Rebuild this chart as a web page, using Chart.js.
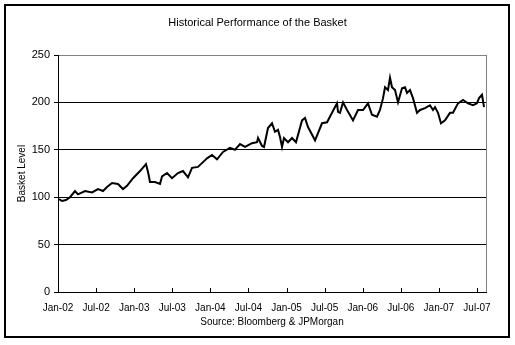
<!DOCTYPE html>
<html>
<head>
<meta charset="utf-8">
<script src="https://cdn.jsdelivr.net/npm/chart.js@4.4.0/dist/chart.umd.min.js"></script>
<style>
  body { margin: 0; background: #fff; }
  canvas { display: block; }
</style>
</head>
<body>
<canvas id="basketChart" width="515" height="345"></canvas>
<script>
// months since Jan-02
const months = [
    0.16, 0.63, 1.26, 1.89, 2.68, 3.15, 4.25, 5.36, 6.30, 7.09,
    7.72, 8.51, 9.45, 10.24, 10.87, 11.82, 12.92, 13.86, 14.18, 14.49,
    15.28, 16.07, 16.39, 17.17, 17.96, 18.90, 19.69, 20.48, 21.11, 22.05,
    22.84, 23.47, 24.26, 25.05, 25.99, 27.09, 27.88, 28.67, 29.46, 30.56,
    31.35, 31.51, 32.14, 32.45, 33.08, 33.71, 34.18, 34.66, 34.97, 35.29,
    35.60, 36.23, 36.86, 37.49, 38.44, 38.91, 39.38, 40.49, 41.59, 42.38,
    43.16, 43.95, 44.11, 44.42, 44.90, 45.53, 46.47, 47.26, 48.05, 48.83,
    49.46, 50.25, 50.72, 51.20, 51.51, 51.98, 52.30, 52.61, 53.09, 53.56,
    54.19, 54.66, 54.98, 55.45, 55.92, 56.55, 57.03, 57.81, 58.60, 59.07,
    59.39, 59.86, 60.33, 60.96, 61.75, 62.22, 63.01, 63.80, 64.59, 65.37,
    66.00, 66.32, 66.79, 67.11
];
const basketLevel = [
    98, 96, 97, 100, 106.5, 103, 106.5, 105, 108.6, 106.5,
    110.8, 115, 114, 108.6, 112, 120, 127.6, 135, 126.6, 116,
    116, 114, 122, 125.5, 120, 125.5, 127.6, 121, 131, 132,
    137, 141, 144.5, 140, 147.7, 152, 150, 156, 153, 157,
    158, 162.5, 154, 153, 173, 178, 169, 171, 163.5, 153,
    162.5, 158, 162.5, 158, 181, 183.6, 174, 160, 178, 179,
    189, 199, 190, 189, 200, 192, 181, 192, 192, 199,
    187, 185, 192, 204.5, 216, 213, 226, 216, 213, 200,
    215, 216, 210, 213, 204.5, 189, 192, 194, 197, 192,
    195, 189, 178, 181, 189, 189, 199, 202.5, 199, 197,
    199, 204.5, 208, 195
];
const tickLabels = ['Jan-02', 'Jul-02', 'Jan-03', 'Jul-03', 'Jan-04', 'Jul-04',
    'Jan-05', 'Jul-05', 'Jan-06', 'Jul-06', 'Jan-07', 'Jul-07'];

const font = 'Liberation Sans, Arial, sans-serif';

const frame = {
    id: 'frame',
    beforeDraw(chart) {
        const c = chart.ctx;
        c.save();
        c.fillStyle = '#fff';
        c.fillRect(0, 0, chart.width, chart.height);
        c.strokeStyle = '#000';
        c.lineWidth = 2;
        c.strokeRect(5, 5, 504, 332);
        c.restore();
    },
    afterDraw(chart) {
        const c = chart.ctx;
        const area = chart.chartArea;
        const xs = chart.scales.x;
        c.save();
        c.lineWidth = 1;
        c.strokeStyle = '#808080';
        c.beginPath();
        c.moveTo(Math.round(area.right) + 0.5, area.top);
        c.lineTo(Math.round(area.right) + 0.5, area.bottom);
        c.stroke();
        // inside tick marks on the date axis
        c.strokeStyle = '#000';
        c.beginPath();
        xs.ticks.forEach(t => {
            const px = Math.round(xs.getPixelForValue(t.value)) + 0.5;
            c.moveTo(px, Math.round(area.bottom));
            c.lineTo(px, Math.round(area.bottom) - 4);
        });
        c.stroke();
        c.restore();
    }
};

new Chart(document.getElementById('basketChart'), {
    type: 'line',
    data: {
        datasets: [{
            data: months.map((m, i) => ({ x: m, y: basketLevel[i] })),
            borderColor: '#000',
            borderWidth: 2,
            pointRadius: 0,
            tension: 0
        }]
    },
    options: {
        responsive: false,
        animation: false,
        layout: { padding: 0 },
        plugins: {
            legend: { display: false },
            tooltip: { enabled: false },
            title: {
                display: true,
                text: 'Historical Performance of the Basket',
                color: '#000',
                font: { family: font, size: 11, weight: 'normal' },
                padding: { top: 16, bottom: 25.8 }
            }
        },
        scales: {
            x: {
                type: 'linear',
                min: 0,
                max: 67.42,
                afterBuildTicks: scale => {
                    scale.ticks = tickLabels.map((_, i) => ({ value: i * 6 }));
                },
                afterFit: scale => { scale.height = 53; },
                ticks: {
                    autoSkip: false,
                    maxRotation: 0,
                    color: '#000',
                    padding: 10,
                    font: { family: font, size: 10 },
                    callback: v => tickLabels[v / 6]
                },
                grid: { display: true, drawOnChartArea: false, drawTicks: false },
                border: { color: '#000', width: 1 },
                title: {
                    display: true,
                    text: 'Source: Bloomberg & JPMorgan',
                    color: '#000',
                    font: { family: font, size: 10 },
                    padding: { top: 0, bottom: 17 }
                }
            },
            y: {
                min: 0,
                max: 250,
                afterFit: scale => { scale.width = 58; },
                ticks: {
                    stepSize: 50,
                    color: '#000',
                    padding: 4,
                    font: { family: font, size: 11 }
                },
                grid: {
                    color: ctx => ctx.tick && ctx.tick.value === 250 ? '#808080' : '#000',
                    tickColor: '#000',
                    tickLength: 4,
                    lineWidth: 1
                },
                border: { color: '#000', width: 1 },
                title: {
                    display: true,
                    text: 'Basket Level',
                    color: '#000',
                    font: { family: font, size: 10 },
                    padding: { top: 16, bottom: 0 }
                }
            },
            // empty right-hand margin so the title centres on the whole frame
            gap: {
                position: 'right',
                afterFit: scale => { scale.width = 29; },
                ticks: { display: false },
                grid: { display: false },
                border: { display: false }
            }
        }
    },
    plugins: [frame]
});
</script>
</body>
</html>
